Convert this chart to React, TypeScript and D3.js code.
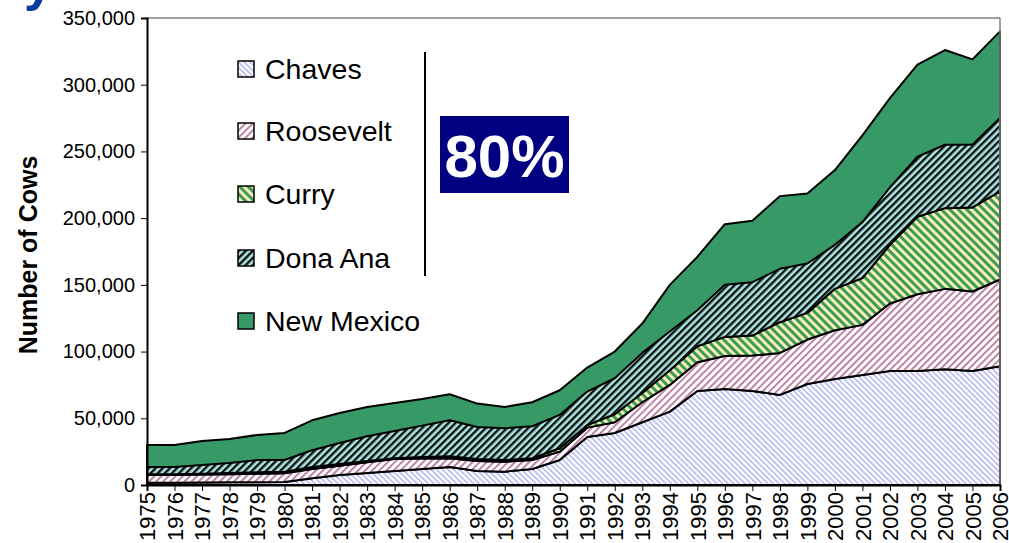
import * as d3 from "d3";
import { useEffect, useRef } from "react";

const years = d3.range(1975, 2007);

// county values (cows)
const chaves = [1700, 1700, 1800, 2000, 2000, 2200, 5000, 7500, 9000, 10500, 12000, 13500, 10500, 10000, 12000, 18700, 36000, 39000, 47000, 55000, 70500, 72000, 70500, 67500, 75700, 79500, 82400, 85400, 85400, 86700, 85400, 89000];
const roosevelt = [5800, 5800, 6000, 6000, 6500, 6600, 7000, 7000, 8000, 9000, 7800, 6500, 7500, 7500, 6700, 6300, 7000, 8000, 15000, 20000, 21500, 24700, 26500, 31500, 33300, 36500, 37600, 50600, 57600, 60300, 59600, 65000];
const curry = [500, 500, 700, 1000, 1000, 1200, 1500, 1200, 1000, 500, 1200, 1500, 1500, 1200, 1300, 2500, 2000, 6000, 7000, 11000, 12000, 14300, 15000, 23000, 20000, 31000, 35000, 44000, 58000, 60500, 63000, 66000];
const donaAna = [5500, 5500, 6500, 7500, 9200, 8700, 12500, 15800, 18500, 20500, 23500, 27000, 24000, 23800, 24000, 25000, 25000, 27000, 30000, 29000, 27000, 39000, 40000, 40000, 37000, 33000, 42000, 43000, 45000, 47500, 47000, 55000];
// state total
const newMexico = [30000, 30000, 33000, 34500, 37500, 39000, 48500, 54000, 58500, 61500, 64500, 68000, 61000, 58500, 62000, 71000, 88000, 100000, 121000, 150000, 171000, 195500, 198000, 216500, 218500, 236000, 262000, 290000, 315000, 326000, 319000, 340000];

const yTicks = [0, 50000, 100000, 150000, 200000, 250000, 300000, 350000];
const legendNames = ["Chaves", "Roosevelt", "Curry", "Dona Ana", "New Mexico"];
const fills = ["url(#pChaves)", "url(#pRoosevelt)", "url(#pCurry)", "url(#pDonaAna)", "#379965"];

const margin = { top: 18, right: 9, bottom: 58, left: 147 };
const W = 1009, H = 543;

export default function App() {
    const svgRef = useRef(null);

    useEffect(() => {
        const svg = d3.select(svgRef.current);
        svg.selectAll("*").remove();

        const defs = svg.append("defs");
        // striped patterns
        function stripes(id: string, size: number, angle: number, bg: string, fg: string, w: number) {
            const p = defs.append("pattern")
                .attr("id", id)
                .attr("patternUnits", "userSpaceOnUse")
                .attr("width", size)
                .attr("height", size)
                .attr("patternTransform", "rotate(" + angle + ")");
            p.append("rect").attr("width", size).attr("height", size).attr("fill", bg);
            p.append("rect").attr("width", w).attr("height", size).attr("fill", fg);
        }
        stripes("pChaves", 4, -45, "#ffffff", "#b4b6f0", 1.6);
        stripes("pRoosevelt", 5, 45, "#ffffff", "#b5789a", 1.8);
        stripes("pCurry", 6, -45, "#f3f1b0", "#3f9860", 3);
        stripes("pDonaAna", 5, 45, "#a9e7e0", "#111111", 2.4);

        const x = d3.scaleLinear().domain([1975, 2006]).range([margin.left, W - margin.right]);
        const y = d3.scaleLinear().domain([0, 350000]).range([H - margin.bottom, margin.top]);

        const rows = years.map((yr, i) => ({
            year: yr,
            chaves: chaves[i],
            roosevelt: roosevelt[i],
            curry: curry[i],
            donaAna: donaAna[i],
        }));
        const stack = d3.stack<any>().keys(["chaves", "roosevelt", "curry", "donaAna"]);
        const series = stack(rows);

        // state total, drawn behind
        const totalArea = d3.area<number>()
            .x((d, i) => x(years[i]))
            .y0(y(0))
            .y1(d => y(d));
        svg.append("path")
            .attr("d", totalArea(newMexico))
            .attr("fill", fills[4])
            .attr("stroke", "#000")
            .attr("stroke-width", 2)
            .attr("stroke-linejoin", "round");

        const area = d3.area<any>()
            .x(d => x(d.data.year))
            .y0(d => y(d[0]))
            .y1(d => y(d[1]));
        series.forEach((s, k) => {
            svg.append("path")
                .attr("d", area(s))
                .attr("fill", fills[k])
                .attr("stroke", "#000")
                .attr("stroke-width", 2)
                .attr("stroke-linejoin", "round");
        });

        // frame
        svg.append("line")
            .attr("x1", x(1975)).attr("x2", x(2006))
            .attr("y1", y(350000)).attr("y2", y(350000))
            .attr("stroke", "#808080").attr("stroke-width", 1.5);
        svg.append("line")
            .attr("x1", x(2006)).attr("x2", x(2006))
            .attr("y1", y(350000)).attr("y2", y(0))
            .attr("stroke", "#808080").attr("stroke-width", 1.5);

        const yAxis = svg.append("g")
            .attr("transform", "translate(" + margin.left + ",0)")
            .call(d3.axisLeft(y).tickValues(yTicks).tickSize(6).tickPadding(6).tickFormat(d3.format(",")));
        yAxis.select(".domain").attr("stroke", "#000").attr("stroke-width", 2);
        yAxis.selectAll(".tick text")
            .style("font-family", "Liberation Sans, Arial")
            .style("font-size", "20px")
            .attr("fill", "#000");

        const xAxis = svg.append("g")
            .attr("transform", "translate(0," + y(0) + ")")
            .call(d3.axisBottom(x).tickValues(years).tickFormat(d3.format("d")).tickSize(6));
        xAxis.select(".domain").attr("stroke", "#000").attr("stroke-width", 2);
        xAxis.selectAll(".tick text")
            .style("font-family", "Liberation Sans, Arial")
            .style("font-size", "22px")
            .attr("fill", "#000")
            .attr("text-anchor", "end")
            .attr("transform", "rotate(-90)")
            .attr("x", -7)
            .attr("y", 0)
            .attr("dy", "0.35em");

        // y title
        svg.append("text")
            .attr("transform", "translate(37,255) rotate(-90)")
            .attr("text-anchor", "middle")
            .style("font-family", "Liberation Sans, Arial")
            .style("font-size", "25px")
            .style("font-weight", "bold")
            .text("Number of Cows");

        // cut-off title glyph at the top
        svg.append("text")
            .attr("x", 24)
            .attr("y", 0)
            .attr("fill", "#0a3aa0")
            .style("font-family", "Liberation Sans, Arial")
            .style("font-size", "52px")
            .style("font-weight", "bold")
            .text("y");

        // legend
        const lg = svg.append("g");
        const rowY = [69, 131, 194, 258, 321];
        legendNames.forEach((name, i) => {
            lg.append("rect")
                .attr("x", 238).attr("y", rowY[i] - 8)
                .attr("width", 16).attr("height", 16)
                .attr("fill", fills[i])
                .attr("stroke", "#000").attr("stroke-width", 1.5);
            lg.append("text")
                .attr("x", 265).attr("y", rowY[i])
                .attr("dy", "0.36em")
                .style("font-family", "Liberation Sans, Arial")
                .style("font-size", "28.5px")
                .text(name);
        });
        lg.append("line")
            .attr("x1", 425).attr("x2", 425)
            .attr("y1", 52).attr("y2", 276)
            .attr("stroke", "#000").attr("stroke-width", 2);

        svg.append("rect")
            .attr("x", 440).attr("y", 116)
            .attr("width", 129).attr("height", 77)
            .attr("fill", "#000080");
        svg.append("text")
            .attr("x", 504.5).attr("y", 155)
            .attr("dy", "0.36em")
            .attr("text-anchor", "middle")
            .attr("fill", "#fff")
            .style("font-family", "Liberation Sans, Arial")
            .style("font-size", "60px")
            .style("font-weight", "bold")
            .text("80%");
    }, []);

    return (
        <svg ref={svgRef} width={W} height={H}
            style={{ position: "absolute", left: 0, top: 0, display: "block", background: "#fff" }} />
    );
}
